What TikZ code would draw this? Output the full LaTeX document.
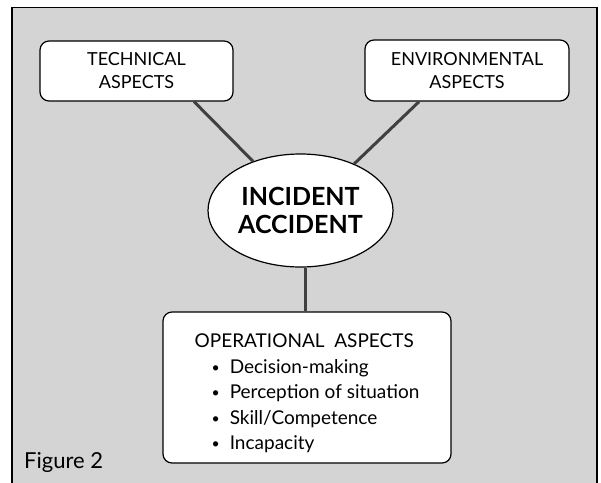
\documentclass[tikz,border=0pt]{standalone}
\usepackage{fontspec}
\setmainfont{Lato}
\usetikzlibrary{shapes.geometric}
\definecolor{panelgray}{RGB}{212,212,212}
\definecolor{linkgray}{RGB}{64,64,64}
\tikzset{
  aspectbox/.style={draw=black, line width=1.2pt, fill=white, rounded corners=9pt, align=center, inner sep=0pt,
    font=\fontsize{18}{23}\selectfont},
  hubshape/.style={ellipse, draw=black, line width=1.2pt, fill=white, align=center, inner sep=0pt,
    font=\fontsize{25}{28}\selectfont\bfseries},
  linkline/.style={draw=linkgray, line width=3pt}
}
\newcommand\ListBullet{\hspace*{17pt}\raisebox{1pt}{\fontsize{14}{14}\selectfont\textbullet}\hspace{10pt}}

\begin{document}
\begin{tikzpicture}[x=1pt,y=1pt]
\useasboundingbox (0.000000, 0.000000) rectangle (601.000000, -482.000000);
% Drawing the panel
\filldraw[fill=panelgray, draw=black, line width=1.5pt] (12.000000, -7.500000) rectangle (597.000000, -495.000000);
% Drawing nodes
\node[aspectbox, minimum width=193pt, minimum height=60pt] (tech) at (136.500000, -71.000000) {TECHNICAL\\ ASPECTS};
\node[aspectbox, minimum width=204pt, minimum height=61pt] (env) at (467.000000, -70.500000) {ENVIRONMENTAL\\ ASPECTS};
\node[hubshape, minimum width=185pt, minimum height=113pt] (incident) at (300.500000, -210.500000) {INCIDENT\\ ACCIDENT};
\node[aspectbox, align=left, font=\fontsize{19}{25.5}\selectfont, minimum width=288pt, minimum height=151pt] (oper) at (307.000000, -387.500000) {\rule{0pt}{26pt}OPERATIONAL~~ASPECTS\\
  \ListBullet Decision-making\\
  \ListBullet Perception of situation\\
  \ListBullet Skill/Competence\\
  \ListBullet Incapacity};
% Done with nodes; drawing links
\draw[linkline] (tech.-28) -- (incident.134);
\draw[linkline] (env.-147) -- (incident.41);
\draw[linkline] (incident.-85) -- (incident.-85 |- oper.north);
% Done with links; drawing caption
\node[anchor=base west, inner sep=0pt, font=\fontsize{22}{26}\selectfont] (figlabel) at (24.000000, -468.000000) {Figure 2};
\end{tikzpicture}
\end{document}
